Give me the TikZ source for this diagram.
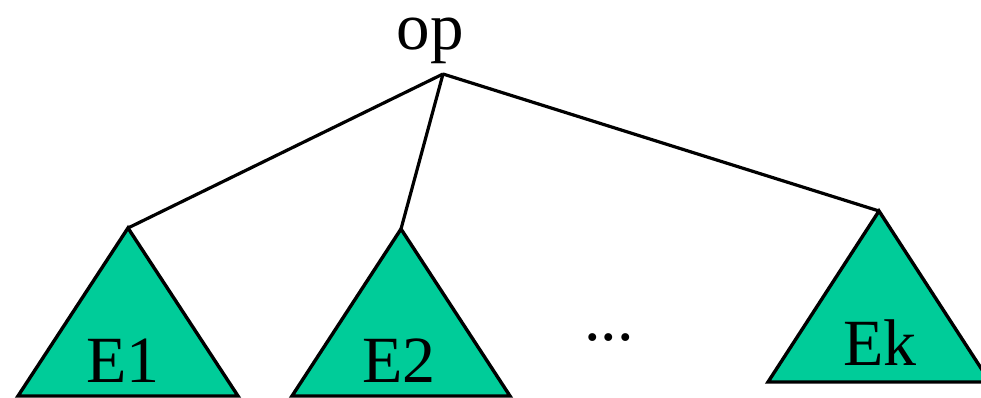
\documentclass[tikz,border=0pt]{standalone}
\usepackage{fontspec}
\setmainfont{Liberation Serif}
\definecolor{treegreen}{RGB}{0,204,153}
\begin{document}
\begin{tikzpicture}[x=1pt,y=-1pt,
  subtree/.style={fill=treegreen,draw=black,line width=3.4pt,line join=miter},
  edge/.style={draw=black,line width=3.2pt},
  label/.style={anchor=base,inner sep=0pt,font=\fontsize{66}{66}\selectfont},
  rootlabel/.style={anchor=base,inner sep=0pt,font=\fontsize{67}{67}\selectfont}]
  \useasboundingbox (0,0) rectangle (981,398);
  % root operator and its attachment point
  \node[rootlabel] (op) at (430,50) {op};
  \coordinate (root) at (443,74);
  % apexes of the subtrees
  \coordinate (t1) at (128,228);
  \coordinate (t2) at (401,229);
  \coordinate (tk) at (879,211);
  % subtrees
  \path[subtree] (t1) -- (18,396) -- (238,396) -- cycle;
  \path[subtree] (t2) -- (292,396) -- (510,396) -- cycle;
  \path[subtree] (tk) -- (768,382) -- (990,382) -- cycle;
  \node[label] (e1) at (123,382) {E1};
  \node[label] (e2) at (399,382) {E2};
  \node[label] (ek) at (880,365) {Ek};
  \node[label] (dots) at (609,340) {...};
  % edges from the operator to the subtrees
  \draw[edge] (root) -- (t1);
  \draw[edge] (root) -- (t2);
  \draw[edge] (root) -- (tk);
\end{tikzpicture}
\end{document}
